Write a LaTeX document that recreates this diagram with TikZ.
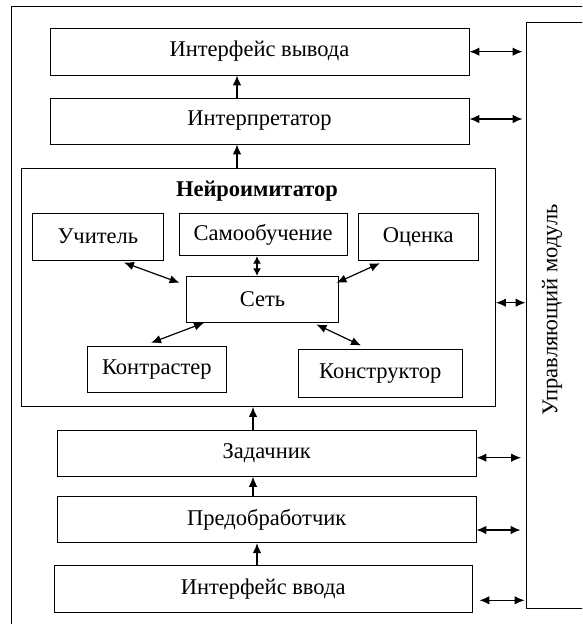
\documentclass[tikz,border=0pt]{standalone}
\usepackage{fontspec}
\setmainfont{Liberation Serif}
\usetikzlibrary{arrows.meta,calc}
\tikzset{
  box/.style={draw=black, line width=0.9pt, rectangle, inner sep=0pt, align=center},
  darr/.style={line width=1.2pt, {Latex[length=10pt,width=8.5pt]}-{Latex[length=10pt,width=8.5pt]}},
  sdarr/.style={line width=1.2pt, {Latex[length=7.5pt,width=8pt]}-{Latex[length=7.5pt,width=8pt]}},
  uarr/.style={line width=1.2pt, -{Latex[length=10pt,width=8.5pt]}},
  lbl/.style={font=\fontsize{22.5}{26}\selectfont}
}
\begin{document}
\begin{tikzpicture}[x=1pt,y=-1pt, every node/.style={lbl}]
\clip (0,0) rectangle (582,624);
\fill[white] (0,0) rectangle (582,624);
% outer frame
\draw[line width=0.9pt] (11.3,6) rectangle (600,640);
% module
\node[box, minimum width=74pt, minimum height=586.3pt] (module) at (563,315.15) {};
\node[rotate=90] (modtxt) at (552,310) {Управляющий модуль};
% main column
\node[box, minimum width=419pt, minimum height=47pt] (vyvod) at (259.5,51.5) {Интерфейс вывода};
\node[box, minimum width=419pt, minimum height=46pt] (interp) at (259.5,121) {Интерпретатор};
\node[box, minimum width=474pt, minimum height=238pt] (neuro) at (258.5,287.5) {};
\node[font=\fontsize{22.5}{26}\selectfont\bfseries] (title) at (257,191.5) {Нейроимитатор};
\node[box, minimum width=130.3pt, minimum height=46.7pt] (uch) at (97.85,236.65) {Учитель};
\node[box, minimum width=167.7pt, minimum height=42.4pt] (samo) at (263.2,234.5) {Самообучение};
\node[box, minimum width=119.5pt, minimum height=47.2pt] (ocen) at (418.25,236.9) {Оценка};
\node[box, minimum width=151.7pt, minimum height=46pt] (set) at (262.55,299.3) {Сеть};
\node[box, minimum width=139.3pt, minimum height=46pt] (kontr) at (156.85,369.5) {Контрастер};
\node[box, minimum width=163.5pt, minimum height=47.5pt] (konstr) at (380.25,373.25) {Конструктор};
\node[box, minimum width=418.5pt, minimum height=46.3pt] (zad) at (266.75,453.15) {Задачник};
\node[box, minimum width=418.5pt, minimum height=46.7pt] (pred) at (266.75,519.35) {Предобработчик};
\node[box, minimum width=418.3pt, minimum height=46.7pt] (vvod) at (263.15,588.65) {Интерфейс ввода};
% helper coordinates
\coordinate (xa) at (237,0);
\coordinate (xb) at (253,0);
\coordinate (xc) at (257,0);
\coordinate (xs) at (257,0);
\coordinate (y1) at (0,51.7);
\coordinate (y2) at (0,119);
\coordinate (y3) at (0,302.7);
\coordinate (y4) at (0,457.7);
\coordinate (y5) at (0,530);
\coordinate (y6) at (0,600.3);
% upward arrows
\draw[uarr] (xa |- interp.north) -- (xa |- vyvod.south);
\draw[uarr] (xa |- neuro.north) -- (xa |- interp.south);
\draw[uarr] (xb |- zad.north) -- (xb |- neuro.south);
\draw[uarr] (xb |- pred.north) -- (xb |- zad.south);
\draw[uarr] (xc |- vvod.north) -- (xc |- pred.south);
% to the module
\draw[darr, shorten >=3pt] (vyvod.east |- y1) -- (module.west |- y1);
\draw[darr, shorten >=3pt] (interp.east |- y2) -- (module.west |- y2);
\draw[darr] (neuro.east |- y3) -- (module.west |- y3);
\draw[darr, shorten >=4.5pt] (zad.east |- y4) -- (module.west |- y4);
\draw[darr, shorten >=5pt] (pred.east |- y5) -- (module.west |- y5);
\draw[darr, shorten <=6.7pt, shorten >=1pt] (vvod.east |- y6) -- (module.west |- y6);
% inside the neuro-imitator
\draw[darr] ([xshift=26pt,yshift=-2pt]uch.south) -- ([xshift=-6.7pt,yshift=-7pt]set.north west);
\draw[sdarr] (xs |- samo.south) -- (xs |- set.north);
\draw[darr] ([xshift=-38.25pt,yshift=-2.2pt]ocen.south) -- ([xshift=-2.4pt,yshift=-7pt]set.north east);
\draw[darr] ([xshift=17.8pt]set.south west) -- ([xshift=-5.85pt,yshift=3.2pt]kontr.north);
\draw[darr] ([xshift=-22.4pt,yshift=-1.7pt]set.south east) -- ([xshift=-19.25pt,yshift=3.5pt]konstr.north);
\end{tikzpicture}
\end{document}
